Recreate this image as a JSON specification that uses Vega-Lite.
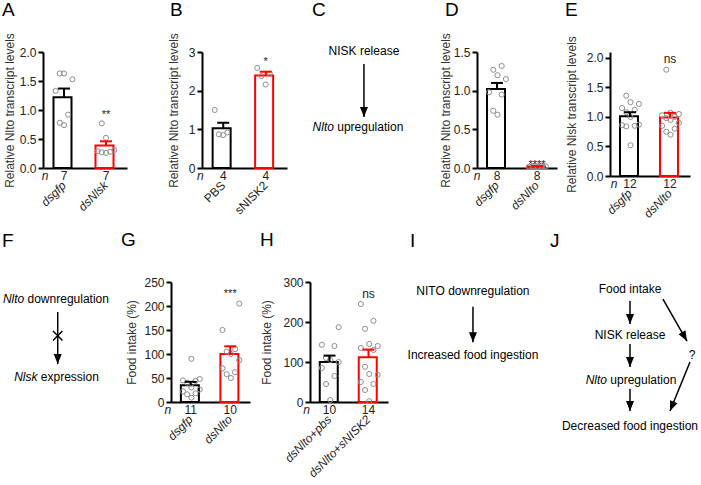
{
  "$schema": "https://vega.github.io/schema/vega-lite/v6.json",
  "padding": {"left": 2, "top": 0, "right": 0, "bottom": 2},
  "background": "white",
  "config": {
    "view": {"stroke": null},
    "font": "Liberation Sans",
    "axis": {"domainColor": "black", "domainWidth": 2, "tickColor": "black", "tickWidth": 2, "tickSize": 5, "labelFontSize": 12, "labelColor": "#222", "titleFontSize": 12, "titleFontWeight": "normal", "titleColor": "#333", "grid": false, "labelPadding": 2},
    "axisY": {"labelOverlap": false, "labelFlush": false, "tickCount": 10},
    "axisX": {"ticks": false, "labelAngle": -45, "labelAlign": "right", "labelBaseline": "middle", "labelPadding": 15, "title": null},
    "title": {"fontSize": 19, "fontWeight": "normal", "anchor": "start", "frame": "group", "color": "black", "baseline": "alphabetic"},
    "text": {"fontSize": 12, "color": "#222"}
  },
  "datasets": {
    "A_sum": [{"group": "dsgfp", "mean": 1.22, "sem": 0.15, "n": 7}, {"group": "dsNlsk", "mean": 0.39, "sem": 0.07, "n": 7, "sig": "**", "sigAt": 0.92}],
    "A_pts": [{"group": "dsgfp", "value": 1.63}, {"group": "dsgfp", "value": 1.63}, {"group": "dsgfp", "value": 1.53}, {"group": "dsgfp", "value": 1.33}, {"group": "dsgfp", "value": 0.92}, {"group": "dsgfp", "value": 0.78}, {"group": "dsgfp", "value": 0.74},
      {"group": "dsNlsk", "value": 0.77}, {"group": "dsNlsk", "value": 0.52}, {"group": "dsNlsk", "value": 0.31}, {"group": "dsNlsk", "value": 0.29}, {"group": "dsNlsk", "value": 0.28}, {"group": "dsNlsk", "value": 0.27}, {"group": "dsNlsk", "value": 0.26}],
    "B_sum": [{"group": "PBS", "mean": 1.03, "sem": 0.14, "n": 4}, {"group": "sNISK2", "mean": 2.39, "sem": 0.1, "n": 4, "sig": "*", "sigAt": 2.74}],
    "B_pts": [{"group": "PBS", "value": 1.5}, {"group": "PBS", "value": 0.92}, {"group": "PBS", "value": 0.87}, {"group": "PBS", "value": 0.85},
      {"group": "sNISK2", "value": 2.59}, {"group": "sNISK2", "value": 2.44}, {"group": "sNISK2", "value": 2.38}, {"group": "sNISK2", "value": 2.16}],
    "D_sum": [{"group": "dsgfp", "mean": 1.02, "sem": 0.08, "n": 8}, {"group": "dsNlto", "mean": 0.02, "sem": 0.004, "n": 8, "sig": "****", "sigAt": 0.04}],
    "D_pts": [{"group": "dsgfp", "value": 1.32}, {"group": "dsgfp", "value": 1.27}, {"group": "dsgfp", "value": 1.2}, {"group": "dsgfp", "value": 1.15}, {"group": "dsgfp", "value": 0.98}, {"group": "dsgfp", "value": 0.95}, {"group": "dsgfp", "value": 0.74}, {"group": "dsgfp", "value": 0.69},
      {"group": "dsNlto", "value": 0.03}, {"group": "dsNlto", "value": 0.025}, {"group": "dsNlto", "value": 0.02}, {"group": "dsNlto", "value": 0.02}, {"group": "dsNlto", "value": 0.018}, {"group": "dsNlto", "value": 0.015}, {"group": "dsNlto", "value": 0.012}, {"group": "dsNlto", "value": 0.01}],
    "E_sum": [{"group": "dsgfp", "mean": 1.01, "sem": 0.07, "n": 12}, {"group": "dsNlto", "mean": 0.99, "sem": 0.08, "n": 12, "sig": "ns", "sigAt": 1.98}],
    "E_pts": [{"group": "dsgfp", "value": 1.36}, {"group": "dsgfp", "value": 1.25}, {"group": "dsgfp", "value": 1.22}, {"group": "dsgfp", "value": 1.15}, {"group": "dsgfp", "value": 1.12}, {"group": "dsgfp", "value": 1.08}, {"group": "dsgfp", "value": 1.0}, {"group": "dsgfp", "value": 0.87}, {"group": "dsgfp", "value": 0.86}, {"group": "dsgfp", "value": 0.85}, {"group": "dsgfp", "value": 0.84}, {"group": "dsgfp", "value": 0.52},
      {"group": "dsNlto", "value": 1.8}, {"group": "dsNlto", "value": 1.07}, {"group": "dsNlto", "value": 1.05}, {"group": "dsNlto", "value": 1.03}, {"group": "dsNlto", "value": 1.0}, {"group": "dsNlto", "value": 0.98}, {"group": "dsNlto", "value": 0.95}, {"group": "dsNlto", "value": 0.9}, {"group": "dsNlto", "value": 0.85}, {"group": "dsNlto", "value": 0.8}, {"group": "dsNlto", "value": 0.75}, {"group": "dsNlto", "value": 0.7}],
    "G_sum": [{"group": "dsgfp", "mean": 35, "sem": 7, "n": 11}, {"group": "dsNlto", "mean": 100, "sem": 16, "n": 10, "sig": "***", "sigAt": 226}],
    "G_pts": [{"group": "dsgfp", "value": 90}, {"group": "dsgfp", "value": 48}, {"group": "dsgfp", "value": 45}, {"group": "dsgfp", "value": 44}, {"group": "dsgfp", "value": 40}, {"group": "dsgfp", "value": 30}, {"group": "dsgfp", "value": 26}, {"group": "dsgfp", "value": 22}, {"group": "dsgfp", "value": 18}, {"group": "dsgfp", "value": 16}, {"group": "dsgfp", "value": 9},
      {"group": "dsNlto", "value": 205}, {"group": "dsNlto", "value": 150}, {"group": "dsNlto", "value": 110}, {"group": "dsNlto", "value": 105}, {"group": "dsNlto", "value": 100}, {"group": "dsNlto", "value": 87}, {"group": "dsNlto", "value": 70}, {"group": "dsNlto", "value": 62}, {"group": "dsNlto", "value": 58}, {"group": "dsNlto", "value": 50}],
    "H_sum": [{"group": "dsNlto+pbs", "mean": 100, "sem": 16, "n": 10}, {"group": "dsNlto+sNISK2", "mean": 112, "sem": 19, "n": 14, "sig": "ns", "sigAt": 271}],
    "H_pts": [{"group": "dsNlto+pbs", "value": 187}, {"group": "dsNlto+pbs", "value": 143}, {"group": "dsNlto+pbs", "value": 140}, {"group": "dsNlto+pbs", "value": 110}, {"group": "dsNlto+pbs", "value": 105}, {"group": "dsNlto+pbs", "value": 100}, {"group": "dsNlto+pbs", "value": 85}, {"group": "dsNlto+pbs", "value": 65}, {"group": "dsNlto+pbs", "value": 45}, {"group": "dsNlto+pbs", "value": 5},
      {"group": "dsNlto+sNISK2", "value": 245}, {"group": "dsNlto+sNISK2", "value": 203}, {"group": "dsNlto+sNISK2", "value": 183}, {"group": "dsNlto+sNISK2", "value": 145}, {"group": "dsNlto+sNISK2", "value": 140}, {"group": "dsNlto+sNISK2", "value": 135}, {"group": "dsNlto+sNISK2", "value": 130}, {"group": "dsNlto+sNISK2", "value": 88}, {"group": "dsNlto+sNISK2", "value": 70}, {"group": "dsNlto+sNISK2", "value": 68}, {"group": "dsNlto+sNISK2", "value": 50}, {"group": "dsNlto+sNISK2", "value": 45}, {"group": "dsNlto+sNISK2", "value": 30}, {"group": "dsNlto+sNISK2", "value": 2}],
    "C_nodes": [{"step": 0, "text": "NISK release"}, {"step": 1, "em": "Nlto", "text": "upregulation"}],
    "C_edges": [{"y1": 0.17, "y2": 0.87}],
    "F_nodes": [{"step": 0, "em": "Nlto", "text": "downregulation"}, {"step": 1, "em": "Nlsk", "text": "expression"}],
    "F_edges": [{"y1": 0.167, "y2": 0.833, "blocked": true}],
    "I_nodes": [{"step": 0, "text": "NITO downregulation"}, {"step": 1, "text": "Increased food ingestion"}],
    "I_edges": [{"y1": 0.25, "y2": 0.8}],
    "J_nodes": [{"col": 0, "step": 0, "text": "Food intake"}, {"col": 0, "step": 1, "text": "NISK release"}, {"col": 0, "step": 2, "em": "Nlto", "text": "upregulation"}, {"col": 0, "step": 3, "text": "Decreased food ingestion"}, {"col": 1, "step": 1.445, "text": "?"}],
    "J_edges": [{"x1": 0, "y1": 0.263, "x2": 0, "y2": 0.766}, {"x1": 0, "y1": 1.204, "x2": 0, "y2": 1.708}, {"x1": 0, "y1": 2.19, "x2": 0, "y2": 2.67}, {"x1": 0.532, "y1": 0.219, "x2": 0.919, "y2": 1.139}, {"x1": 0.968, "y1": 1.598, "x2": 0.645, "y2": 2.671}]
  },
  "bounds": "flush",
  "spacing": 230,
  "resolve": {"scale": {"stroke": "independent", "color": "independent"}},
  "vconcat": [
    {
      "bounds": "flush",
      "spacing": 0,
      "resolve": {"scale": {"stroke": "independent", "color": "independent"}},
      "hconcat": [
        {
          "width": 84, "height": 116,
          "title": {"text": "A", "dx": -41, "offset": 13},
          "layer": [
            {"data": {"name": "A_sum"}, "mark": {"type": "bar", "fill": "white", "strokeWidth": 2},
             "encoding": {
               "x": {"field": "group", "type": "nominal", "scale": {"domain": ["dsgfp", "dsNlsk"], "paddingInner": 0.5, "paddingOuter": 0.25}, "axis": {"labelFontStyle": "italic"}},
               "y": {"field": "mean", "type": "quantitative", "scale": {"domain": [0, 2], "nice": false}, "axis": {"values": [0, 0.5, 1, 1.5, 2], "tickCount": 10, "format": ".1f", "labelOverlap": false, "title": "Relative Nlto transcript levels", "titlePadding": 3}},
               "stroke": {"field": "group", "type": "nominal", "scale": {"domain": ["dsgfp", "dsNlsk"], "range": ["black", "red"]}, "legend": null}}},
            {"data": {"name": "A_pts"},
             "transform": [{"window": [{"op": "row_number", "as": "r"}], "groupby": ["group"], "sort": [{"field": "value"}]}, {"calculate": "(datum.r-1)%5==0 ? 0 : (datum.r-1)%5==1 ? -1 : (datum.r-1)%5==2 ? 1 : (datum.r-1)%5==3 ? -2 : 2", "as": "j"}],
             "mark": {"type": "point", "shape": "circle", "filled": false, "color": "#8e8e8e", "strokeWidth": 1, "size": 26, "opacity": 1},
             "encoding": {"x": {"field": "group", "type": "nominal"}, "xOffset": {"field": "j", "type": "nominal", "scale": {"domain": [-2, -1, 0, 1, 2]}}, "y": {"field": "value", "type": "quantitative"}}},
            {"data": {"name": "A_sum"}, "transform": [{"calculate": "datum.mean + datum.sem", "as": "hi"}], "mark": {"type": "rule", "strokeWidth": 2},
             "encoding": {"x": {"field": "group", "type": "nominal"}, "y": {"field": "mean", "type": "quantitative"}, "y2": {"field": "hi"}, "stroke": {"field": "group", "type": "nominal", "legend": null}}},
            {"data": {"name": "A_sum"}, "transform": [{"calculate": "datum.mean + datum.sem", "as": "hi"}], "mark": {"type": "tick", "thickness": 2, "size": 12, "opacity": 1},
             "encoding": {"x": {"field": "group", "type": "nominal"}, "y": {"field": "hi", "type": "quantitative"}, "color": {"field": "group", "type": "nominal", "scale": {"domain": ["dsgfp", "dsNlsk"], "range": ["black", "red"]}, "legend": null}}},
            {"data": {"name": "A_sum"}, "mark": {"type": "text", "baseline": "middle", "dy": 8},
             "encoding": {"x": {"field": "group", "type": "nominal"}, "y": {"datum": 0}, "text": {"field": "n"}}},
            {"data": {"values": [{"t": "n"}]}, "mark": {"type": "text", "baseline": "middle", "dy": 8, "dx": -19, "fontStyle": "italic"},
             "encoding": {"x": {"datum": "dsgfp", "type": "nominal"}, "y": {"datum": 0}, "text": {"field": "t"}}},
            {"data": {"name": "A_sum"}, "transform": [{"filter": "datum.sig"}], "mark": {"type": "text", "baseline": "middle", "fontSize": 11},
             "encoding": {"x": {"field": "group", "type": "nominal"}, "y": {"field": "sigAt", "type": "quantitative"}, "text": {"field": "sig"}}}
          ]
        },
        {"width": 75, "height": 116, "data": {"values": [{}]}, "mark": {"type": "point", "opacity": 0}},
        {
          "width": 85, "height": 116,
          "title": {"text": "B", "dx": -32, "offset": 13},
          "layer": [
            {"data": {"name": "B_sum"}, "mark": {"type": "bar", "fill": "white", "strokeWidth": 2},
             "encoding": {
               "x": {"field": "group", "type": "nominal", "scale": {"domain": ["PBS", "sNISK2"], "paddingInner": 0.5, "paddingOuter": 0.25}, "axis": {}},
               "y": {"field": "mean", "type": "quantitative", "scale": {"domain": [0, 3], "nice": false}, "axis": {"values": [0, 1, 2, 3], "tickCount": 10, "format": "d", "labelOverlap": false, "title": "Relative Nlto transcript levels", "titlePadding": 8}},
               "stroke": {"field": "group", "type": "nominal", "scale": {"domain": ["PBS", "sNISK2"], "range": ["black", "red"]}, "legend": null}}},
            {"data": {"name": "B_pts"},
             "transform": [{"window": [{"op": "row_number", "as": "r"}], "groupby": ["group"], "sort": [{"field": "value"}]}, {"calculate": "(datum.r-1)%5==0 ? 0 : (datum.r-1)%5==1 ? -1 : (datum.r-1)%5==2 ? 1 : (datum.r-1)%5==3 ? -2 : 2", "as": "j"}],
             "mark": {"type": "point", "shape": "circle", "filled": false, "color": "#8e8e8e", "strokeWidth": 1, "size": 26, "opacity": 1},
             "encoding": {"x": {"field": "group", "type": "nominal"}, "xOffset": {"field": "j", "type": "nominal", "scale": {"domain": [-2, -1, 0, 1, 2]}}, "y": {"field": "value", "type": "quantitative"}}},
            {"data": {"name": "B_sum"}, "transform": [{"calculate": "datum.mean + datum.sem", "as": "hi"}], "mark": {"type": "rule", "strokeWidth": 2},
             "encoding": {"x": {"field": "group", "type": "nominal"}, "y": {"field": "mean", "type": "quantitative"}, "y2": {"field": "hi"}, "stroke": {"field": "group", "type": "nominal", "legend": null}}},
            {"data": {"name": "B_sum"}, "transform": [{"calculate": "datum.mean + datum.sem", "as": "hi"}], "mark": {"type": "tick", "thickness": 2, "size": 12, "opacity": 1},
             "encoding": {"x": {"field": "group", "type": "nominal"}, "y": {"field": "hi", "type": "quantitative"}, "color": {"field": "group", "type": "nominal", "scale": {"domain": ["PBS", "sNISK2"], "range": ["black", "red"]}, "legend": null}}},
            {"data": {"name": "B_sum"}, "mark": {"type": "text", "baseline": "middle", "dy": 8},
             "encoding": {"x": {"field": "group", "type": "nominal"}, "y": {"datum": 0}, "text": {"field": "n"}}},
            {"data": {"values": [{"t": "n"}]}, "mark": {"type": "text", "baseline": "middle", "dy": 8, "dx": -23, "fontStyle": "italic"},
             "encoding": {"x": {"datum": "PBS", "type": "nominal"}, "y": {"datum": 0}, "text": {"field": "t"}}},
            {"data": {"name": "B_sum"}, "transform": [{"filter": "datum.sig"}], "mark": {"type": "text", "baseline": "middle", "fontSize": 11},
             "encoding": {"x": {"field": "group", "type": "nominal"}, "y": {"field": "sigAt", "type": "quantitative"}, "text": {"field": "sig"}}}
          ]
        },
        {
          "width": 190, "height": 116,
          "title": {"text": "C", "dx": 25, "offset": 24.5},
          "layer": [
            {"data": {"name": "C_nodes"}, "transform": [{"filter": "!datum.em"}], "mark": {"type": "text", "color": "black"},
             "encoding": {"x": {"datum": 0, "type": "quantitative", "scale": {"domain": [-0.405, 0.595], "nice": false, "zero": false}, "axis": null}, "y": {"field": "step", "type": "quantitative", "scale": {"domain": [0.0132, 1.5395], "reverse": true, "nice": false, "zero": false}, "axis": null}, "text": {"field": "text"}}},
            {"data": {"name": "C_nodes"}, "transform": [{"filter": "datum.em"}], "mark": {"type": "text", "color": "black", "align": "right", "fontStyle": "italic", "dx": -30},
             "encoding": {"x": {"datum": 0, "type": "quantitative"}, "y": {"field": "step", "type": "quantitative"}, "text": {"field": "em"}}},
            {"data": {"name": "C_nodes"}, "transform": [{"filter": "datum.em"}], "mark": {"type": "text", "color": "black", "align": "left", "dx": -26.7},
             "encoding": {"x": {"datum": 0, "type": "quantitative"}, "y": {"field": "step", "type": "quantitative"}, "text": {"field": "text"}}},
            {"data": {"name": "C_edges"}, "mark": {"type": "rule", "color": "black", "strokeWidth": 1.5},
             "encoding": {"x": {"datum": 0, "type": "quantitative"}, "y": {"field": "y1", "type": "quantitative"}, "y2": {"field": "y2"}}},
            {"data": {"name": "C_edges"}, "mark": {"type": "point", "shape": "M -0.8 -2 L 0.8 -2 L 0 0 Z", "filled": true, "color": "black", "size": 100, "opacity": 1},
             "encoding": {"x": {"datum": 0, "type": "quantitative"}, "y": {"field": "y2", "type": "quantitative"}}}
          ]
        },
        {
          "width": 80, "height": 116,
          "title": {"text": "D", "dx": -32, "offset": 13},
          "layer": [
            {"data": {"name": "D_sum"}, "mark": {"type": "bar", "fill": "white", "strokeWidth": 2},
             "encoding": {
               "x": {"field": "group", "type": "nominal", "scale": {"domain": ["dsgfp", "dsNlto"], "paddingInner": 0.5, "paddingOuter": 0.25}, "axis": {"labelFontStyle": "italic"}},
               "y": {"field": "mean", "type": "quantitative", "scale": {"domain": [0, 1.5], "nice": false}, "axis": {"values": [0, 0.5, 1, 1.5], "tickCount": 10, "format": ".1f", "labelOverlap": false, "title": "Relative Nlto transcript levels", "titlePadding": 1}},
               "stroke": {"field": "group", "type": "nominal", "scale": {"domain": ["dsgfp", "dsNlto"], "range": ["black", "red"]}, "legend": null}}},
            {"data": {"name": "D_pts"},
             "transform": [{"window": [{"op": "row_number", "as": "r"}], "groupby": ["group"], "sort": [{"field": "value"}]}, {"calculate": "(datum.r-1)%5==0 ? 0 : (datum.r-1)%5==1 ? -1 : (datum.r-1)%5==2 ? 1 : (datum.r-1)%5==3 ? -2 : 2", "as": "j"}],
             "mark": {"type": "point", "shape": "circle", "filled": false, "color": "#8e8e8e", "strokeWidth": 1, "size": 26, "opacity": 1},
             "encoding": {"x": {"field": "group", "type": "nominal"}, "xOffset": {"field": "j", "type": "nominal", "scale": {"domain": [-2, -1, 0, 1, 2]}}, "y": {"field": "value", "type": "quantitative"}}},
            {"data": {"name": "D_sum"}, "transform": [{"calculate": "datum.mean + datum.sem", "as": "hi"}], "mark": {"type": "rule", "strokeWidth": 2},
             "encoding": {"x": {"field": "group", "type": "nominal"}, "y": {"field": "mean", "type": "quantitative"}, "y2": {"field": "hi"}, "stroke": {"field": "group", "type": "nominal", "legend": null}}},
            {"data": {"name": "D_sum"}, "transform": [{"calculate": "datum.mean + datum.sem", "as": "hi"}], "mark": {"type": "tick", "thickness": 2, "size": 12, "opacity": 1},
             "encoding": {"x": {"field": "group", "type": "nominal"}, "y": {"field": "hi", "type": "quantitative"}, "color": {"field": "group", "type": "nominal", "scale": {"domain": ["dsgfp", "dsNlto"], "range": ["black", "red"]}, "legend": null}}},
            {"data": {"name": "D_sum"}, "mark": {"type": "text", "baseline": "middle", "dy": 8},
             "encoding": {"x": {"field": "group", "type": "nominal"}, "y": {"datum": 0}, "text": {"field": "n"}}},
            {"data": {"values": [{"t": "n"}]}, "mark": {"type": "text", "baseline": "middle", "dy": 8, "dx": -20, "fontStyle": "italic"},
             "encoding": {"x": {"datum": "dsgfp", "type": "nominal"}, "y": {"datum": 0}, "text": {"field": "t"}}},
            {"data": {"name": "D_sum"}, "transform": [{"filter": "datum.sig"}], "mark": {"type": "text", "baseline": "middle", "fontSize": 11},
             "encoding": {"x": {"field": "group", "type": "nominal"}, "y": {"field": "sigAt", "type": "quantitative"}, "text": {"field": "sig"}}}
          ]
        },
        {"width": 53, "height": 116, "data": {"values": [{}]}, "mark": {"type": "point", "opacity": 0}},
        {
          "width": 80, "height": 124,
          "title": {"text": "E", "dx": -45, "offset": 16},
          "layer": [
            {"data": {"name": "E_sum"}, "mark": {"type": "bar", "fill": "white", "strokeWidth": 2},
             "encoding": {
               "x": {"field": "group", "type": "nominal", "scale": {"domain": ["dsgfp", "dsNlto"], "paddingInner": 0.5, "paddingOuter": 0.25}, "axis": {"labelFontStyle": "italic"}},
               "y": {"field": "mean", "type": "quantitative", "scale": {"domain": [0, 2.1], "nice": false}, "axis": {"values": [0, 0.5, 1, 1.5, 2], "tickCount": 10, "format": ".1f", "labelOverlap": false, "title": "Relative Nlsk transcript levels", "titlePadding": 8}},
               "stroke": {"field": "group", "type": "nominal", "scale": {"domain": ["dsgfp", "dsNlto"], "range": ["black", "red"]}, "legend": null}}},
            {"data": {"name": "E_pts"},
             "transform": [{"window": [{"op": "row_number", "as": "r"}], "groupby": ["group"], "sort": [{"field": "value"}]}, {"calculate": "(datum.r-1)%5==0 ? 0 : (datum.r-1)%5==1 ? -1 : (datum.r-1)%5==2 ? 1 : (datum.r-1)%5==3 ? -2 : 2", "as": "j"}],
             "mark": {"type": "point", "shape": "circle", "filled": false, "color": "#8e8e8e", "strokeWidth": 1, "size": 26, "opacity": 1},
             "encoding": {"x": {"field": "group", "type": "nominal"}, "xOffset": {"field": "j", "type": "nominal", "scale": {"domain": [-2, -1, 0, 1, 2]}}, "y": {"field": "value", "type": "quantitative"}}},
            {"data": {"name": "E_sum"}, "transform": [{"calculate": "datum.mean + datum.sem", "as": "hi"}], "mark": {"type": "rule", "strokeWidth": 2},
             "encoding": {"x": {"field": "group", "type": "nominal"}, "y": {"field": "mean", "type": "quantitative"}, "y2": {"field": "hi"}, "stroke": {"field": "group", "type": "nominal", "legend": null}}},
            {"data": {"name": "E_sum"}, "transform": [{"calculate": "datum.mean + datum.sem", "as": "hi"}], "mark": {"type": "tick", "thickness": 2, "size": 12, "opacity": 1},
             "encoding": {"x": {"field": "group", "type": "nominal"}, "y": {"field": "hi", "type": "quantitative"}, "color": {"field": "group", "type": "nominal", "scale": {"domain": ["dsgfp", "dsNlto"], "range": ["black", "red"]}, "legend": null}}},
            {"data": {"name": "E_sum"}, "mark": {"type": "text", "baseline": "middle", "dy": 8},
             "encoding": {"x": {"field": "group", "type": "nominal"}, "y": {"datum": 0}, "text": {"field": "n"}}},
            {"data": {"values": [{"t": "n"}]}, "mark": {"type": "text", "baseline": "middle", "dy": 8, "dx": -16, "fontStyle": "italic"},
             "encoding": {"x": {"datum": "dsgfp", "type": "nominal"}, "y": {"datum": 0}, "text": {"field": "t"}}},
            {"data": {"name": "E_sum"}, "transform": [{"filter": "datum.sig"}], "mark": {"type": "text", "baseline": "middle", "fontSize": 12},
             "encoding": {"x": {"field": "group", "type": "nominal"}, "y": {"field": "sigAt", "type": "quantitative"}, "text": {"field": "sig"}}}
          ]
        }
      ]
    },
    {
      "bounds": "flush",
      "spacing": 0,
      "resolve": {"scale": {"stroke": "independent", "color": "independent"}},
      "hconcat": [
        {
          "width": 128, "height": 120,
          "title": {"text": "F", "dx": -41, "offset": 31},
          "layer": [
            {"data": {"name": "F_nodes"}, "transform": [{"filter": "datum.step == 0"}], "mark": {"type": "text", "color": "black", "align": "right", "fontStyle": "italic", "dx": -33.5},
             "encoding": {"x": {"datum": 0, "type": "quantitative", "scale": {"domain": [-0.115, 0.885], "nice": false, "zero": false}, "axis": null}, "y": {"field": "step", "type": "quantitative", "scale": {"domain": [-0.218, 1.3205], "reverse": true, "nice": false, "zero": false}, "axis": null}, "text": {"field": "em"}}},
            {"data": {"name": "F_nodes"}, "transform": [{"filter": "datum.step == 0"}], "mark": {"type": "text", "color": "black", "align": "left", "dx": -30.2},
             "encoding": {"x": {"datum": 0, "type": "quantitative"}, "y": {"field": "step", "type": "quantitative"}, "text": {"field": "text"}}},
            {"data": {"name": "F_nodes"}, "transform": [{"filter": "datum.step == 1"}], "mark": {"type": "text", "color": "black", "align": "right", "fontStyle": "italic", "dx": -20.2},
             "encoding": {"x": {"datum": 0, "type": "quantitative"}, "y": {"field": "step", "type": "quantitative"}, "text": {"field": "em"}}},
            {"data": {"name": "F_nodes"}, "transform": [{"filter": "datum.step == 1"}], "mark": {"type": "text", "color": "black", "align": "left", "dx": -16.9},
             "encoding": {"x": {"datum": 0, "type": "quantitative"}, "y": {"field": "step", "type": "quantitative"}, "text": {"field": "text"}}},
            {"data": {"name": "F_edges"}, "mark": {"type": "rule", "color": "black", "strokeWidth": 1.5},
             "encoding": {"x": {"datum": 0, "type": "quantitative"}, "y": {"field": "y1", "type": "quantitative"}, "y2": {"field": "y2"}}},
            {"data": {"name": "F_edges"}, "mark": {"type": "point", "shape": "M -0.8 -2 L 0.8 -2 L 0 0 Z", "filled": true, "color": "black", "size": 100, "opacity": 1},
             "encoding": {"x": {"datum": 0, "type": "quantitative"}, "y": {"field": "y2", "type": "quantitative"}}},
            {"data": {"name": "F_edges"}, "transform": [{"filter": "datum.blocked"}, {"calculate": "(datum.y1 + datum.y2) / 2 - 0.03", "as": "mid"}], "mark": {"type": "point", "shape": "M -1 -1 L 1 1 M -1 1 L 1 -1", "filled": false, "color": "black", "strokeWidth": 1.5, "size": 90, "opacity": 1},
             "encoding": {"x": {"datum": 0, "type": "quantitative"}, "y": {"field": "mid", "type": "quantitative"}}}
          ]
        },
        {
          "width": 79, "height": 120,
          "title": {"text": "G", "dx": -50, "offset": 26},
          "layer": [
            {"data": {"name": "G_sum"}, "mark": {"type": "bar", "fill": "white", "strokeWidth": 2},
             "encoding": {
               "x": {"field": "group", "type": "nominal", "scale": {"domain": ["dsgfp", "dsNlto"], "paddingInner": 0.5, "paddingOuter": 0.25}, "axis": {"labelFontStyle": "italic"}},
               "y": {"field": "mean", "type": "quantitative", "scale": {"domain": [0, 250], "nice": false}, "axis": {"values": [0, 50, 100, 150, 200, 250], "tickCount": 10, "labelOverlap": false, "title": "Food intake (%)", "titlePadding": 5}},
               "stroke": {"field": "group", "type": "nominal", "scale": {"domain": ["dsgfp", "dsNlto"], "range": ["black", "red"]}, "legend": null}}},
            {"data": {"name": "G_pts"},
             "transform": [{"window": [{"op": "row_number", "as": "r"}], "groupby": ["group"], "sort": [{"field": "value"}]}, {"calculate": "(datum.r-1)%5==0 ? 0 : (datum.r-1)%5==1 ? -1 : (datum.r-1)%5==2 ? 1 : (datum.r-1)%5==3 ? -2 : 2", "as": "j"}],
             "mark": {"type": "point", "shape": "circle", "filled": false, "color": "#8e8e8e", "strokeWidth": 1, "size": 26, "opacity": 1},
             "encoding": {"x": {"field": "group", "type": "nominal"}, "xOffset": {"field": "j", "type": "nominal", "scale": {"domain": [-2, -1, 0, 1, 2]}}, "y": {"field": "value", "type": "quantitative"}}},
            {"data": {"name": "G_sum"}, "transform": [{"calculate": "datum.mean + datum.sem", "as": "hi"}], "mark": {"type": "rule", "strokeWidth": 2},
             "encoding": {"x": {"field": "group", "type": "nominal"}, "y": {"field": "mean", "type": "quantitative"}, "y2": {"field": "hi"}, "stroke": {"field": "group", "type": "nominal", "legend": null}}},
            {"data": {"name": "G_sum"}, "transform": [{"calculate": "datum.mean + datum.sem", "as": "hi"}], "mark": {"type": "tick", "thickness": 2, "size": 12, "opacity": 1},
             "encoding": {"x": {"field": "group", "type": "nominal"}, "y": {"field": "hi", "type": "quantitative"}, "color": {"field": "group", "type": "nominal", "scale": {"domain": ["dsgfp", "dsNlto"], "range": ["black", "red"]}, "legend": null}}},
            {"data": {"name": "G_sum"}, "mark": {"type": "text", "baseline": "middle", "dy": 8},
             "encoding": {"x": {"field": "group", "type": "nominal"}, "y": {"datum": 0}, "text": {"field": "n"}}},
            {"data": {"values": [{"t": "n"}]}, "mark": {"type": "text", "baseline": "middle", "dy": 8, "dx": -23, "fontStyle": "italic"},
             "encoding": {"x": {"datum": "dsgfp", "type": "nominal"}, "y": {"datum": 0}, "text": {"field": "t"}}},
            {"data": {"name": "G_sum"}, "transform": [{"filter": "datum.sig"}], "mark": {"type": "text", "baseline": "middle", "fontSize": 11},
             "encoding": {"x": {"field": "group", "type": "nominal"}, "y": {"field": "sigAt", "type": "quantitative"}, "text": {"field": "sig"}}}
          ]
        },
        {"width": 60, "height": 120, "data": {"values": [{}]}, "mark": {"type": "point", "opacity": 0}},
        {
          "width": 78, "height": 120,
          "title": {"text": "H", "dx": -50, "offset": 26},
          "layer": [
            {"data": {"name": "H_sum"}, "mark": {"type": "bar", "fill": "white", "strokeWidth": 2},
             "encoding": {
               "x": {"field": "group", "type": "nominal", "scale": {"domain": ["dsNlto+pbs", "dsNlto+sNISK2"], "paddingInner": 0.5, "paddingOuter": 0.25}, "axis": {"labelFontStyle": "italic"}},
               "y": {"field": "mean", "type": "quantitative", "scale": {"domain": [0, 300], "nice": false}, "axis": {"values": [0, 100, 200, 300], "tickCount": 10, "labelOverlap": false, "title": "Food intake (%)", "titlePadding": 9}},
               "stroke": {"field": "group", "type": "nominal", "scale": {"domain": ["dsNlto+pbs", "dsNlto+sNISK2"], "range": ["black", "red"]}, "legend": null}}},
            {"data": {"name": "H_pts"},
             "transform": [{"window": [{"op": "row_number", "as": "r"}], "groupby": ["group"], "sort": [{"field": "value"}]}, {"calculate": "(datum.r-1)%5==0 ? 0 : (datum.r-1)%5==1 ? -1 : (datum.r-1)%5==2 ? 1 : (datum.r-1)%5==3 ? -2 : 2", "as": "j"}],
             "mark": {"type": "point", "shape": "circle", "filled": false, "color": "#8e8e8e", "strokeWidth": 1, "size": 26, "opacity": 1},
             "encoding": {"x": {"field": "group", "type": "nominal"}, "xOffset": {"field": "j", "type": "nominal", "scale": {"domain": [-2, -1, 0, 1, 2]}}, "y": {"field": "value", "type": "quantitative"}}},
            {"data": {"name": "H_sum"}, "transform": [{"calculate": "datum.mean + datum.sem", "as": "hi"}], "mark": {"type": "rule", "strokeWidth": 2},
             "encoding": {"x": {"field": "group", "type": "nominal"}, "y": {"field": "mean", "type": "quantitative"}, "y2": {"field": "hi"}, "stroke": {"field": "group", "type": "nominal", "legend": null}}},
            {"data": {"name": "H_sum"}, "transform": [{"calculate": "datum.mean + datum.sem", "as": "hi"}], "mark": {"type": "tick", "thickness": 2, "size": 12, "opacity": 1},
             "encoding": {"x": {"field": "group", "type": "nominal"}, "y": {"field": "hi", "type": "quantitative"}, "color": {"field": "group", "type": "nominal", "scale": {"domain": ["dsNlto+pbs", "dsNlto+sNISK2"], "range": ["black", "red"]}, "legend": null}}},
            {"data": {"name": "H_sum"}, "mark": {"type": "text", "baseline": "middle", "dy": 8},
             "encoding": {"x": {"field": "group", "type": "nominal"}, "y": {"datum": 0}, "text": {"field": "n"}}},
            {"data": {"values": [{"t": "n"}]}, "mark": {"type": "text", "baseline": "middle", "dy": 8, "dx": -23, "fontStyle": "italic"},
             "encoding": {"x": {"datum": "dsNlto+pbs", "type": "nominal"}, "y": {"datum": 0}, "text": {"field": "t"}}},
            {"data": {"name": "H_sum"}, "transform": [{"filter": "datum.sig"}], "mark": {"type": "text", "baseline": "middle", "fontSize": 12},
             "encoding": {"x": {"field": "group", "type": "nominal"}, "y": {"field": "sigAt", "type": "quantitative"}, "text": {"field": "sig"}}}
          ]
        },
        {
          "width": 152, "height": 120,
          "title": {"text": "I", "dx": 22, "offset": 31},
          "layer": [
            {"data": {"name": "I_nodes"}, "mark": {"type": "text", "color": "black"},
             "encoding": {"x": {"datum": 0, "type": "quantitative", "scale": {"domain": [-0.559, 0.441], "nice": false, "zero": false}, "axis": null}, "y": {"field": "step", "type": "quantitative", "scale": {"domain": [-0.135, 1.731], "reverse": true, "nice": false, "zero": false}, "axis": null}, "text": {"field": "text"}}},
            {"data": {"name": "I_edges"}, "mark": {"type": "rule", "color": "black", "strokeWidth": 1.5},
             "encoding": {"x": {"datum": 0, "type": "quantitative"}, "y": {"field": "y1", "type": "quantitative"}, "y2": {"field": "y2"}}},
            {"data": {"name": "I_edges"}, "mark": {"type": "point", "shape": "M -0.8 -2 L 0.8 -2 L 0 0 Z", "filled": true, "color": "black", "size": 100, "opacity": 1},
             "encoding": {"x": {"datum": 0, "type": "quantitative"}, "y": {"field": "y2", "type": "quantitative"}}}
          ]
        },
        {
          "width": 161, "height": 120,
          "title": {"text": "J", "dx": 10, "offset": 31},
          "layer": [
            {"data": {"name": "J_nodes"}, "transform": [{"filter": "!datum.em"}], "mark": {"type": "text", "color": "black"},
             "encoding": {"x": {"field": "col", "type": "quantitative", "scale": {"domain": [-1.4516, 1.1452], "nice": false, "zero": false}, "axis": null}, "y": {"field": "step", "type": "quantitative", "scale": {"domain": [-0.1533, 2.474], "reverse": true, "nice": false, "zero": false}, "axis": null}, "text": {"field": "text"}}},
            {"data": {"name": "J_nodes"}, "transform": [{"filter": "datum.em"}], "mark": {"type": "text", "color": "black", "align": "right", "fontStyle": "italic", "dx": -23},
             "encoding": {"x": {"field": "col", "type": "quantitative"}, "y": {"field": "step", "type": "quantitative"}, "text": {"field": "em"}}},
            {"data": {"name": "J_nodes"}, "transform": [{"filter": "datum.em"}], "mark": {"type": "text", "color": "black", "align": "left", "dx": -19.7},
             "encoding": {"x": {"field": "col", "type": "quantitative"}, "y": {"field": "step", "type": "quantitative"}, "text": {"field": "text"}}},
            {"data": {"name": "J_edges"}, "mark": {"type": "rule", "color": "black", "strokeWidth": 1.5},
             "encoding": {"x": {"field": "x1", "type": "quantitative"}, "x2": {"field": "x2"}, "y": {"field": "y1", "type": "quantitative"}, "y2": {"field": "y2"}}},
            {"data": {"name": "J_edges"}, "transform": [{"calculate": "(360 - atan2((datum.x2 - datum.x1) * 62, (datum.y2 - datum.y1) * 45.67) * 180 / PI) % 360", "as": "ang"}],
             "mark": {"type": "point", "shape": "M -0.8 -2 L 0.8 -2 L 0 0 Z", "filled": true, "color": "black", "size": 100, "opacity": 1},
             "encoding": {"x": {"field": "x2", "type": "quantitative"}, "y": {"field": "y2", "type": "quantitative"}, "angle": {"field": "ang", "type": "quantitative", "scale": null}}}
          ]
        }
      ]
    }
  ]
}
